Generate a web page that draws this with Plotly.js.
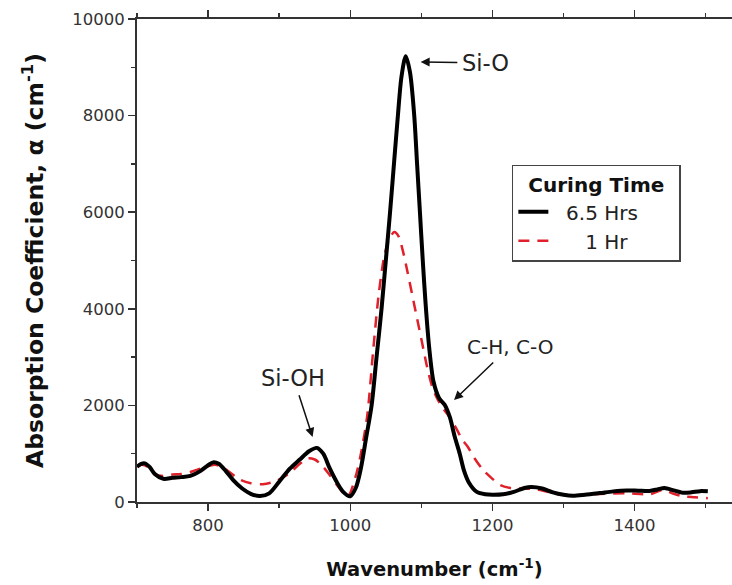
<!DOCTYPE html>
<html>
<head>
<meta charset="utf-8">
<script src="https://cdn.plot.ly/plotly-3.0.1.min.js"></script>
<style>html,body{margin:0;padding:0;background:#fff;}#chart{width:732px;height:585px;}</style>
</head>
<body>
<div id="chart"></div>
<script>
// 6.5 Hrs curing
const wn65 = [700,706,711,718,725,737,750,762,775,789,800,807,815,825,835,848,860,873,886,900,915,929,942,953,962,971,980,990,1000,1008,1015,1022,1030,1037,1044,1050,1056,1062,1067,1072,1078,1084,1090,1094,1098,1102,1106,1111,1117,1125,1133,1140,1147,1154,1160,1167,1178,1190,1200,1215,1230,1245,1255,1270,1285,1300,1313,1330,1351,1370,1389,1405,1421,1432,1442,1455,1468,1480,1492,1503];
const abs65 = [730,790,800,720,580,480,500,515,540,640,760,820,790,640,460,280,170,125,180,420,690,880,1050,1120,1000,700,440,210,120,300,700,1300,2000,3000,4000,5000,6000,7100,8000,8800,9230,8900,8000,7000,6000,5000,4100,3200,2500,2150,2010,1760,1350,1000,650,400,210,160,150,160,210,290,310,280,200,150,130,150,185,220,240,235,230,260,290,240,190,200,225,220];
// 1 Hr curing
const wn1 = [700,706,711,718,725,737,750,762,775,789,800,810,820,830,845,860,877,895,915,929,939,950,960,971,980,990,997,1007,1015,1024,1032,1040,1048,1055,1062,1068,1074,1080,1087,1094,1101,1108,1115,1122,1130,1140,1150,1157,1165,1175,1187,1200,1211,1229,1245,1255,1270,1285,1300,1320,1351,1389,1421,1440,1455,1468,1485,1503];
const abs1 = [740,770,760,690,580,540,570,580,620,690,740,770,720,620,460,390,370,430,600,790,900,880,760,560,380,190,120,500,1000,1800,3100,4300,5100,5450,5590,5500,5200,4800,4300,3800,3300,2800,2400,2150,1950,1750,1500,1300,1150,900,660,480,350,280,280,270,240,180,150,140,165,180,160,250,170,120,100,80];

const seriesNames = ['6.5 Hrs', '1 Hr'];
const legendTitle = 'Curing Time';
const xTitle = 'Wavenumber (cm<sup>-1</sup>)';
const yTitle = 'Absorption Coefficient, α (cm<sup>-1</sup>)';
const labelTexts = ['Si-O', 'Si-OH', 'C-H, C-O'];
const labelHeadX = [1099, 947, 1146];
const labelHeadY = [9110, 1345, 2110];
const labelTextX = [1190, 920, 1224];
const labelTextY = [9090, 2570, 3210];

const font = '"DejaVu Sans", Verdana, sans-serif';
const labelSizes = [22.5, 22.5, 20];
const sp = '&nbsp;';

const traces = [
  {x: wn1, y: abs1, name: sp.repeat(5) + seriesNames[1], mode:'lines', type:'scatter',
   line:{color:'#e0202a', width:2.5, dash:'11px,8px', shape:'spline', smoothing:0.8}, legendrank:2},
  {x: wn65, y: abs65, name: sp.repeat(2) + seriesNames[0], mode:'lines', type:'scatter',
   line:{color:'#000', width:4, shape:'spline', smoothing:0.8}, legendrank:1}
];

const tickStyle = {tickwidth:1.5, tickcolor:'#333'};

const layout = {
  width: 732, height: 585,
  margin: {l:137, r:0, t:19, b:83},
  paper_bgcolor:'#fff', plot_bgcolor:'#fff',
  font: {family: font, color:'#222', size:17},
  showlegend: true,
  legend: {
    x: 0.63, y: 0.698, xanchor:'left', yanchor:'top',
    bordercolor:'#444', borderwidth:1.5, bgcolor:'#fff',
    title:{text:sp+sp+'<b>'+legendTitle+'</b>'+sp+sp, side:'top center', font:{size:20, color:'#111'}},
    font:{size:20, color:'#222'},
    tracegroupgap: 0, traceorder:'normal'
  },
  xaxis: Object.assign({
    range:[700,1537], showgrid:false, zeroline:false,
    showline:true, linecolor:'#333', linewidth:2, mirror:'allticks',
    ticks:'outside', ticklen:7,
    tick0:800, dtick:200,
    minor:Object.assign({dtick:100, tick0:700, ticks:'outside', ticklen:4}, tickStyle),
    tickfont:{size:16.5, color:'#333'},
    title:{text:'<b>'+xTitle+'</b>', font:{size:19.5, color:'#111'}, standoff:29}
  }, tickStyle),
  yaxis: Object.assign({
    range:[0,10000], showgrid:false, zeroline:false,
    showline:true, linecolor:'#333', linewidth:2,
    ticks:'outside', ticklen:7,
    dtick:2000, tickformat:'d',
    minor:Object.assign({dtick:1000, ticks:'outside', ticklen:4}, tickStyle),
    tickfont:{size:16.5, color:'#333'},
    title:{text:'<b>'+yTitle+'</b>', font:{size:23.5, color:'#111'}, standoff:22}
  }, tickStyle),
  annotations: labelTexts.map((t, i) => ({
    x:labelHeadX[i], y:labelHeadY[i], ax:labelTextX[i], ay:labelTextY[i],
    axref:'x', ayref:'y', xref:'x', yref:'y',
    text:t, showarrow:true, arrowhead:2, arrowsize:1.2, arrowwidth:1.5,
    arrowcolor:'#111', standoff:0, startstandoff:3,
    font:{size:labelSizes[i], color:'#222', family:font}
  }))
};

Plotly.newPlot('chart', traces, layout, {displayModeBar:false, staticPlot:true});
</script>
</body>
</html>
